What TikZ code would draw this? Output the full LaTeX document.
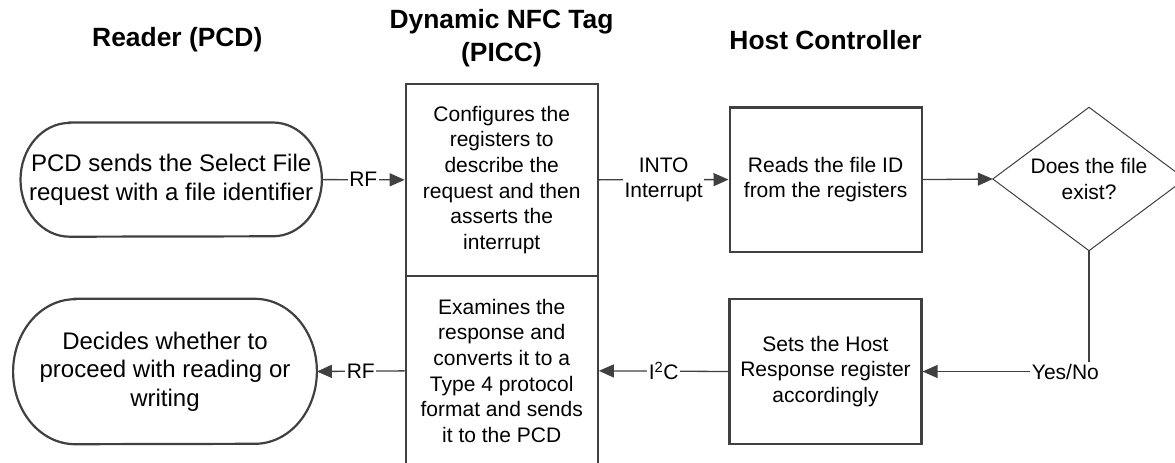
\documentclass[tikz,border=0pt]{standalone}
\usepackage{fontspec}
\setmainfont{Liberation Sans}
\usetikzlibrary{arrows.meta}
\definecolor{edge}{HTML}{404040}
\newcommand\bxfont{\fontsize{21}{25.6}\selectfont}
\newcommand\ovfont{\fontsize{24}{28.4}\selectfont}
\newcommand\ttlfont{\fontsize{26.4}{32.7}\selectfont\bfseries}
\begin{document}
\begin{tikzpicture}[x=1pt,y=-1pt,
  boxtext/.style={align=center, font=\bxfont, text=black},
  procbox/.style={boxtext, draw=edge, line width=2.2pt, inner sep=0pt, minimum width=192pt},
  termnode/.style={align=center, font=\ovfont, inner sep=0pt, text=black},
  termline/.style={draw=edge, line width=2.2pt},
  dialine/.style={draw=edge, line width=1pt},
  conn/.style={draw=edge, line width=1.3pt, -{Triangle[length=15pt,width=13pt]}},
  lbl/.style={font=\bxfont, fill=white, inner sep=1.5pt, align=center, text=black},
  ttl/.style={font=\ttlfont, align=center, text=black}]
\path[use as bounding box] (0,0) rectangle (1175,463);
\clip (0,0) rectangle (1175,463);

% titles
\node[ttl, anchor=base] (t1) at (177.3,46) {Reader (PCD)};
\node[ttl] (t2) at (501.5,38.5) {Dynamic NFC Tag\\(PICC)};
\node[ttl, anchor=base] (t3) at (825.5,49) {Host Controller};

% nodes
\node[termnode, minimum width=301pt, minimum height=113.8pt] (o1) at (171.2,179.6)
  {PCD sends the Select File\\request with a file identifier};
\node[termnode, minimum width=303.4pt, minimum height=145pt] (o2) at (165,371.5)
  {Decides whether to\\proceed with reading or\\writing};
\node[procbox, minimum height=191.7pt] (p1) at (501.75,179.85)
  {Configures the\\registers to\\describe the\\request and then\\asserts the\\interrupt};
\node[procbox, minimum height=190.3pt] (p2) at (501.75,370.85)
  {Examines the\\response and\\converts it to a\\Type 4 protocol\\format and sends\\it to the PCD};
\node[procbox, minimum height=144.2pt] (h1) at (825.6,179.6)
  {Reads the file ID\\from the registers};
\node[procbox, minimum height=145pt] (h2) at (825.5,371.5)
  {Sets the Host\\Response register\\accordingly};
\node[boxtext, inner sep=0pt, minimum width=192pt, minimum height=143pt] (d) at (1089,179)
  {Does the file\\exist?};

% terminator outlines
\draw[termline] ([xshift=49pt]o1.north west) -- ([xshift=-49pt]o1.north east)
  arc[start angle=90, end angle=-90, x radius=49pt, y radius=56.9pt]
  -- ([xshift=49pt]o1.south west)
  arc[start angle=270, end angle=90, x radius=49pt, y radius=56.9pt] -- cycle;
\draw[termline] ([xshift=62pt]o2.north west) -- ([xshift=-62pt]o2.north east)
  arc[start angle=90, end angle=-90, x radius=62pt, y radius=72.5pt]
  -- ([xshift=62pt]o2.south west)
  arc[start angle=270, end angle=90, x radius=62pt, y radius=72.5pt] -- cycle;

% decision outline
\draw[dialine] (d.north) -- (d.east) -- (d.south) -- (d.west) -- cycle;

% connectors
\draw[conn] (o1.east) -- node[lbl] {RF} (p1.west);
\draw[conn] (p1.east) -- node[lbl] {INTO\\Interrupt} (h1.west);
\draw[conn] (h1.east) -- (d.west);
\draw[conn] (d.south) |- node[lbl, pos=0.571] {Yes/No} (h2.east);
\draw[conn] (h2.west) -- node[lbl] {I\textsuperscript{2}C} (p2.east);
\draw[conn] (p2.west) -- node[lbl] {RF} (o2.east);
\end{tikzpicture}
\end{document}
